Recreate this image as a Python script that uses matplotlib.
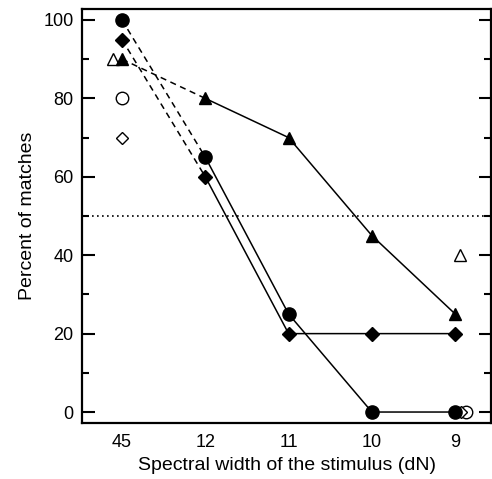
import matplotlib
matplotlib.use("Agg")
import matplotlib.pyplot as plt
from matplotlib.ticker import MultipleLocator

categories = ["45", "12", "11", "10", "9"]
circle_vals = [100, 65, 25, 0, 0]
diamond_vals = [95, 60, 20, 20, 20]
triangle_vals = [90, 80, 70, 45, 25]
# open (unfilled) reference points: (category index offset, value)
open_tri_x = [-0.11, 4.06]
open_tri_y = [90, 40]
open_circ_x = [0.0, 4.13]
open_circ_y = [80, 0]
open_diam_x = [0.0, 4.07]
open_diam_y = [70, 0]
chance_level = 50

plt.rcParams['font.family'] = ['Liberation Sans', 'DejaVu Sans']
fig = plt.figure(figsize=(4.92, 4.79), dpi=100)
ax = fig.add_axes([0.1667, 0.1169, 0.8313, 0.8643])

x = list(range(len(categories)))
specs = [
    (circle_vals, 'o', 9.5),
    (diamond_vals, 'D', 7.0),
    (triangle_vals, '^', 8.5),
]
for vals, m, ms in specs:
    ax.plot(x[:2], vals[:2], ls=(0, (4, 3)), color='black', lw=1.1)
    ax.plot(x[1:], vals[1:], ls='-', color='black', lw=1.1)
    ax.plot(x, vals, ls='none', marker=m, ms=ms, color='black', zorder=4)

ax.plot(open_tri_x, open_tri_y, ls='none', marker='^', ms=8.5, mfc='white', mec='black', mew=1.0, zorder=3)
ax.plot(open_circ_x, open_circ_y, ls='none', marker='o', ms=9, mfc='white', mec='black', mew=1.0, zorder=2)
ax.plot(open_diam_x, open_diam_y, ls='none', marker='D', ms=6.5, mfc='white', mec='black', mew=1.0, zorder=3)

ax.axhline(chance_level, color='black', ls=(0, (1, 2)), lw=1.2)

ax.set_xlim(-0.48, 4.43)
ax.set_ylim(-2.8, 102.8)
ax.set_xticks(x)
ax.set_xticklabels(categories, fontsize=13)
ax.tick_params(axis='x', length=0, pad=8)
ax.yaxis.set_major_locator(MultipleLocator(20))
ax.yaxis.set_minor_locator(MultipleLocator(10))
ax.tick_params(axis='y', which='major', direction='in', length=9, width=1.5, right=True, labelsize=13, pad=6)
ax.tick_params(axis='y', which='minor', direction='in', length=5, width=1.5, right=True)
for s in ax.spines.values():
    s.set_linewidth(1.6)
ax.set_xlabel("Spectral width of the stimulus (dN)", fontsize=14, labelpad=4)
ax.set_ylabel("Percent of matches", fontsize=14, labelpad=5)

fig.savefig("out.png", dpi=100)
